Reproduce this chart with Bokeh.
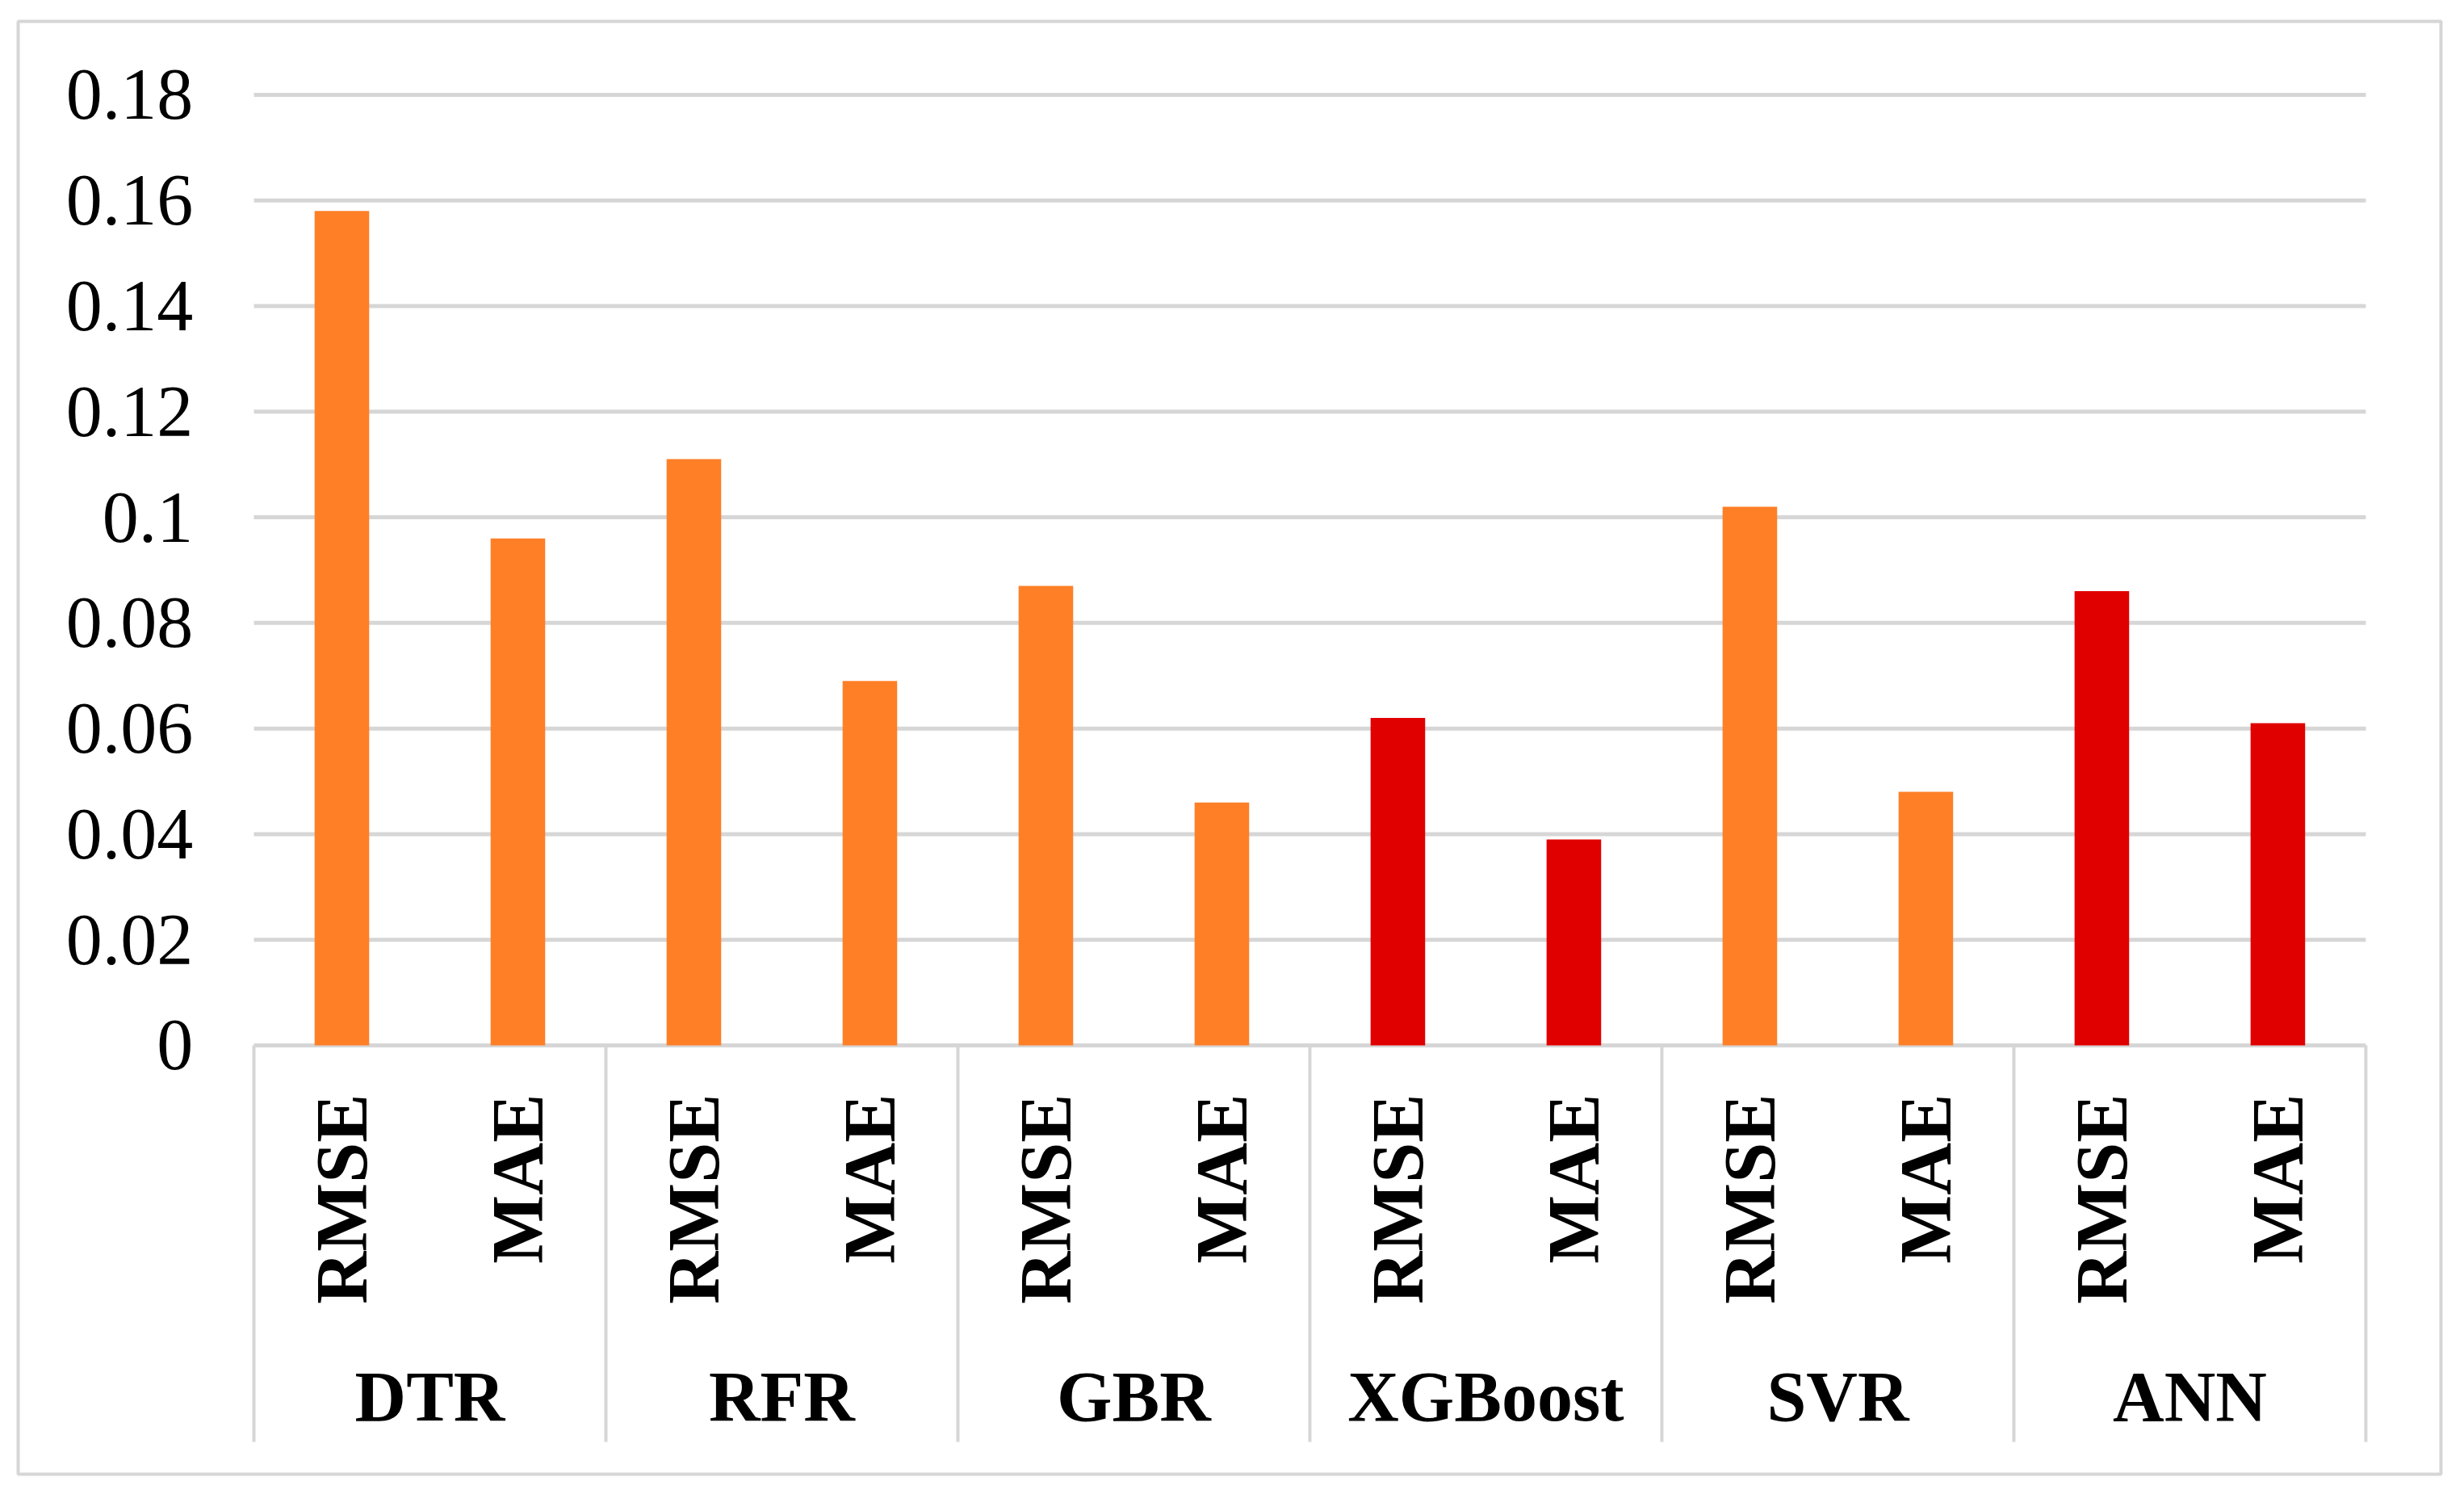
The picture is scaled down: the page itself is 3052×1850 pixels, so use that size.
from bokeh.plotting import figure
from bokeh.models import Range1d, ColumnDataSource
from bokeh.core.properties import value
from bokeh.embed import file_html
from bokeh.resources import INLINE
import math

# ---- data ----
models = ["DTR", "RFR", "GBR", "XGBoost", "SVR", "ANN"]
metrics = ["RMSE", "MAE"]
rmse = [0.158, 0.111, 0.087, 0.062, 0.102, 0.086]
mae = [0.096, 0.069, 0.046, 0.039, 0.048, 0.061]
highlight = [False, False, False, True, False, True]
y_ticks = [0, 0.02, 0.04, 0.06, 0.08, 0.10, 0.12, 0.14, 0.16, 0.18]
y_tick_labels = ["0", "0.02", "0.04", "0.06", "0.08", "0.1", "0.12", "0.14", "0.16", "0.18"]

ORANGE = "#FF7F27"
RED = "#E00000"
GRID = "#D6D6D6"
FONT = value("Liberation Serif")

# ---- build tables ----
bx, btop, bcol = [], [], []
sx, stext = [], []
for i, m in enumerate(models):
    for j, (met, vals) in enumerate(zip(metrics, [rmse, mae])):
        x = 2 * i + j + 0.5
        bx.append(x)
        btop.append(vals[i])
        bcol.append(RED if highlight[i] else ORANGE)
        sx.append(x)
        stext.append(met)
gx = [2 * i + 1 for i in range(len(models))]
sep_x = [2 * i for i in range(len(models) + 1)]

W, H = 3036, 1834
p = figure(width=W, height=H, output_backend="svg", toolbar_location=None,
           x_range=Range1d(-1.3394, 12.427), y_range=Range1d(-0.0812, 0.1939),
           min_border_left=22, min_border_top=26, min_border_right=13, min_border_bottom=9)
p.xaxis.visible = False
p.yaxis.visible = False
p.xgrid.visible = False
p.ygrid.visible = False
p.outline_line_color = GRID
p.outline_line_width = 4
p.background_fill_color = "white"
p.border_fill_color = "white"

# horizontal gridlines
p.segment(x0=[0] * len(y_ticks), x1=[12] * len(y_ticks), y0=y_ticks, y1=y_ticks,
          line_color=GRID, line_width=5)
# category separators
p.segment(x0=sep_x, x1=sep_x, y0=[0] * len(sep_x), y1=[-0.0751] * len(sep_x),
          line_color=GRID, line_width=4)

# bars
src = ColumnDataSource(dict(x=bx, top=btop, color=bcol))
p.vbar(x="x", top="top", bottom=0, width=0.31, fill_color="color", line_color=None, source=src)

# y tick labels
p.text(x=[-0.345] * len(y_ticks), y=y_ticks, text=y_tick_labels, text_font=FONT,
       text_font_size="90px", text_align="right", text_baseline="middle", text_color="black")

# sub-category labels (rotated)
p.text(x=sx, y=[-0.0092] * len(sx), text=stext, text_font=FONT, text_font_style="bold",
       text_font_size="90px", angle=math.pi / 2, text_align="right", text_baseline="middle",
       text_color="black")

# group labels
p.text(x=gx, y=[-0.0665] * len(gx), text=models, text_font=FONT, text_font_style="bold",
       text_font_size="88px", text_align="center", text_baseline="middle", text_color="black")

open("out.html", "w").write(file_html(p, INLINE))
